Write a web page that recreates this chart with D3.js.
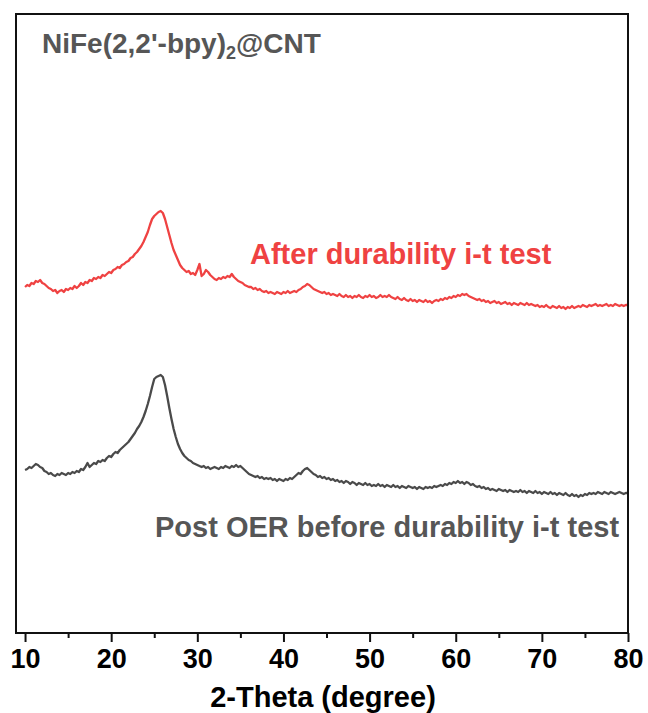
<!DOCTYPE html>
<html>
<head>
<meta charset="utf-8">
<script src="https://cdn.jsdelivr.net/npm/d3@7"></script>
<style>
  body { margin: 0; background: #fff; }
  svg { display: block; font-family: "Liberation Sans", Arial, sans-serif; }
</style>
</head>
<body>
<svg id="xrd" width="648" height="713"></svg>
<script>
// xrd scan settings, 2-theta from 10 to 80 with 0.25 degree step
const two_theta_start = 10;
const two_theta_end = 80;
const two_theta_step = 0.25;

// tick labels on the 2-theta axis
const major_ticks = [10, 20, 30, 40, 50, 60, 70, 80];
const minor_ticks = [15, 25, 35, 45, 55, 65, 75];

// intensity (a.u., stacked), one row = 5 degrees
const after_durability = [
  346,348,347,350,349,352,351,353,350,349,347,345,344,342,343,340,342,343,341,344,
  343,345,344,347,345,347,350,348,351,350,353,352,355,354,356,355,358,357,359,361,
  360,363,364,366,365,368,369,371,372,375,376,379,381,384,387,391,396,401,408,414,
  417,419,421,422,420,414,406,398,390,383,378,373,368,365,363,361,362,359,360,358,
  363,369,357,359,363,361,358,356,354,353,355,354,356,355,357,356,359,356,354,352,
  351,350,348,347,346,346,344,345,343,344,342,341,342,340,341,340,339,341,340,339,
  341,340,342,340,341,342,341,343,344,346,347,349,348,346,344,343,342,341,340,341,
  339,340,338,339,338,337,339,337,336,338,336,337,335,337,336,338,336,335,337,336,
  338,336,337,335,336,338,336,337,336,338,336,335,334,336,334,333,335,333,332,334,
  332,333,331,333,332,331,333,331,332,330,332,333,332,334,333,335,334,336,335,337,
  336,338,337,339,338,339,337,336,335,334,333,334,332,333,331,332,330,331,332,330,
  331,329,330,331,329,330,328,330,329,328,330,329,328,330,328,329,328,327,328,326,
  327,326,328,326,325,327,326,325,327,325,326,324,326,325,327,325,326,327,326,328,
  327,326,328,327,328,329,327,328,327,328,329,327,328,327,329,328,327,328,327,328,
  328
];

const post_oer = [
  163,164,166,165,167,169,168,166,165,162,161,159,160,158,157,159,158,160,159,158,
  160,159,161,160,162,161,164,163,166,170,166,168,170,169,172,171,173,172,175,177,
  176,179,181,180,183,185,187,189,191,194,197,200,204,207,211,216,222,229,237,246,
  254,256,257,258,256,248,237,225,214,204,196,189,184,180,177,175,173,172,170,169,
  168,167,166,167,165,166,164,165,166,165,164,166,165,167,166,165,167,166,168,166,
  167,165,163,161,159,158,157,156,157,155,156,154,155,154,155,153,154,152,154,153,
  152,154,153,155,154,156,158,160,159,162,164,165,163,161,159,158,156,157,155,156,
  154,155,153,154,152,153,151,152,150,152,151,149,151,150,148,150,149,148,150,148,
  149,147,148,147,149,147,148,146,148,147,146,148,146,147,145,147,146,145,147,146,
  145,146,144,146,145,144,146,145,146,145,147,146,147,148,147,149,148,150,149,151,
  150,152,150,151,149,151,150,148,149,147,146,147,145,146,144,145,143,144,143,142,
  144,143,142,143,141,143,142,141,142,141,143,141,142,140,142,141,140,142,140,141,
  139,141,140,139,141,139,140,138,140,139,138,140,138,137,139,137,138,136,138,137,
  139,138,140,139,140,139,141,140,139,141,140,139,141,140,139,140,141,140,139,140,
  140
];

// colors
let red_line = "#ef4242";
let gray_line = "#4a4a4a";
let gray_text = "#565656";

const svg = d3.select("#xrd");

// plot box
const box = { left: 16, right: 628, top: 14, bottom: 633 };

const xScale = d3.scaleLinear()
  .domain([8.95, 80])
  .range([box.left, box.right]);

const yScale = d3.scaleLinear()
  .domain([0, 619])
  .range([box.bottom, box.top]);

// sample grid of the scan
const angles = d3.range(0, after_durability.length).map(i => two_theta_start + i * two_theta_step);

function toPoints(values) {
  return values.map((v, i) => ({ x: angles[i], y: v }));
}

const line_generator = d3.line()
  .x(d => xScale(d.x))
  .y(d => yScale(d.y));

// draw the two curves
svg.append("path")
  .attr("d", line_generator(toPoints(post_oer)))
  .attr("fill", "none")
  .attr("stroke", gray_line)
  .attr("stroke-width", 2.3)
  .attr("stroke-linejoin", "round");

svg.append("path")
  .attr("d", line_generator(toPoints(after_durability)))
  .attr("fill", "none")
  .attr("stroke", red_line)
  .attr("stroke-width", 2.3)
  .attr("stroke-linejoin", "round");

// frame around the plot
svg.append("rect")
  .attr("x", box.left)
  .attr("y", box.top)
  .attr("width", box.right - box.left)
  .attr("height", box.bottom - box.top)
  .attr("fill", "none")
  .attr("stroke", "#111")
  .attr("stroke-width", 2);

// x axis, major and minor ticks
const xAxisGenerator = d3.axisBottom(xScale)
  .tickValues(major_ticks)
  .tickSize(9)
  .tickPadding(7)
  .tickFormat(d3.format("d"));

const xAxis = svg.append("g")
  .attr("transform", `translate(0, ${box.bottom})`)
  .call(xAxisGenerator);

xAxis.select(".domain").remove();
xAxis.selectAll(".tick line").attr("stroke", "#111").attr("stroke-width", 2);
xAxis.selectAll(".tick text")
  .attr("fill", "#000")
  .style("font-size", "27px")
  .style("font-weight", "bold");

const minorAxis = svg.append("g")
  .attr("transform", `translate(0, ${box.bottom})`)
  .call(d3.axisBottom(xScale).tickValues(minor_ticks).tickSize(5).tickFormat(""));
minorAxis.select(".domain").remove();
minorAxis.selectAll(".tick line").attr("stroke", "#111").attr("stroke-width", 2);

// axis title, sits at the very bottom edge like the original
svg.append("text")
  .attr("x", 323)
  .attr("y", 707)
  .attr("text-anchor", "middle")
  .style("font-size", "29px")
  .style("font-weight", "bold")
  .attr("fill", "#000")
  .text("2-Theta (degree)");

// sample name
const title = svg.append("text")
  .attr("x", 42)
  .attr("y", 53)
  .style("font-size", "28px")
  .style("font-weight", "bold")
  .attr("fill", gray_text);
title.append("tspan").text("NiFe(2,2'-bpy)");
title.append("tspan").attr("dy", 6).style("font-size", "18px").text("2");
title.append("tspan").attr("dy", -6).text("@CNT");

// curve labels
svg.append("text")
  .attr("x", 250)
  .attr("y", 264)
  .style("font-size", "29px")
  .style("font-weight", "bold")
  .attr("fill", red_line)
  .text("After durability i-t test");

svg.append("text")
  .attr("x", 155)
  .attr("y", 537)
  .style("font-size", "29px")
  .style("font-weight", "bold")
  .attr("fill", gray_text)
  .text("Post OER before durability i-t test");
</script>
</body>
</html>
